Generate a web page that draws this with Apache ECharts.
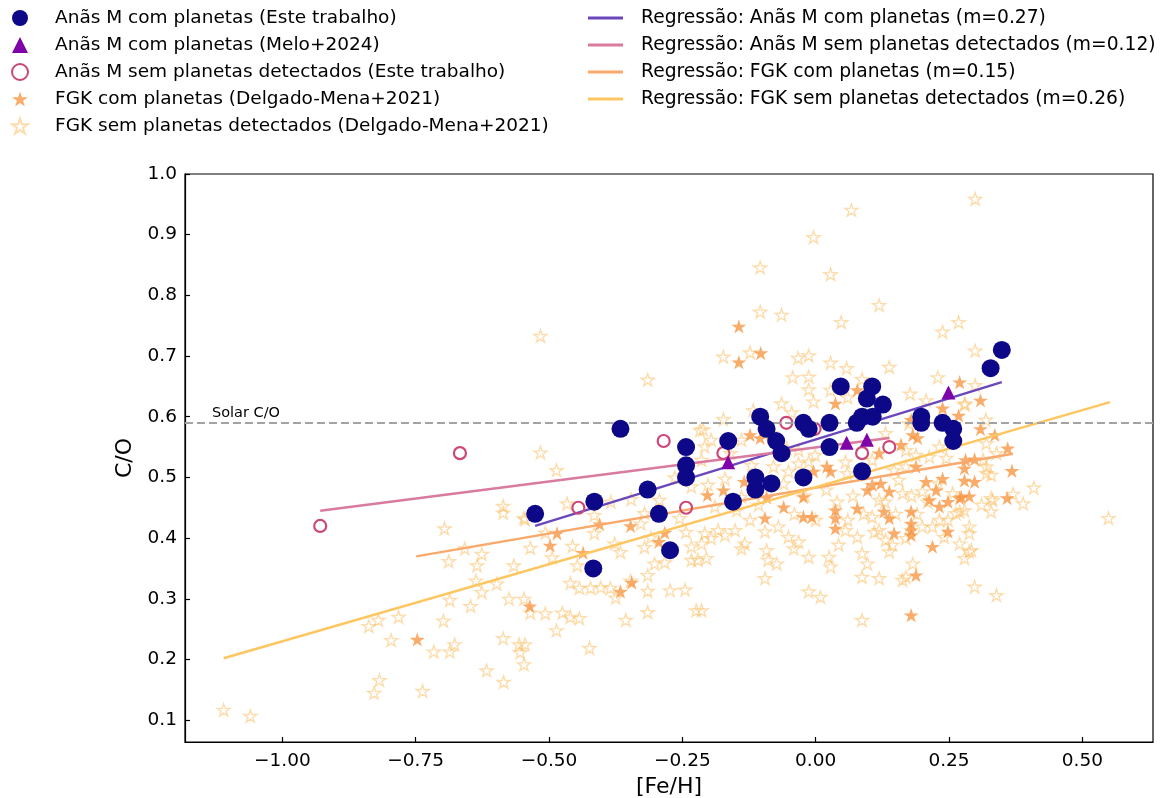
<!DOCTYPE html>
<html><head><meta charset="utf-8">
<script src="https://cdn.jsdelivr.net/npm/echarts@6/dist/echarts.min.js"></script>
<style>html,body{margin:0;padding:0;background:#fff}#c{width:1165px;height:798px}</style>
</head><body><div id="c"></div><script>
// ---- data ----
const xTicks = [-1.0, -0.75, -0.5, -0.25, 0.0, 0.25, 0.5];
const yTicks = [0.1, 0.2, 0.3, 0.4, 0.5, 0.6, 0.7, 0.8, 0.9, 1.0];
const solarCO = 0.59;

const mPlanets = [[-0.526,0.44],[-0.417,0.35],[-0.415,0.46],[-0.366,0.58],[-0.315,0.48],[-0.294,0.44],[-0.273,0.38],[-0.243,0.55],[-0.243,0.52],[-0.243,0.50],[-0.164,0.56],[-0.155,0.46],[-0.113,0.48],[-0.113,0.50],[-0.104,0.60],[-0.092,0.58],[-0.083,0.49],[-0.074,0.56],[-0.064,0.54],[-0.023,0.50],[-0.023,0.59],[-0.013,0.58],[0.026,0.55],[0.026,0.59],[0.047,0.65],[0.077,0.59],[0.087,0.60],[0.087,0.51],[0.096,0.63],[0.106,0.65],[0.107,0.60],[0.126,0.62],[0.198,0.60],[0.198,0.59],[0.238,0.59],[0.258,0.58],[0.258,0.56],[0.328,0.68],[0.349,0.71]];

const mMelo = [[-0.164,0.525],[0.058,0.557],[0.096,0.562],[0.249,0.64]];

const mNoPlanets = [[-0.929,0.42],[-0.667,0.54],[-0.445,0.45],[-0.285,0.56],[-0.243,0.45],[-0.173,0.54],[-0.055,0.59],[-0.002,0.58],[0.087,0.54],[0.138,0.55]];

const fgkPlanets = [[-0.747,0.233],[-0.536,0.288],[-0.498,0.388],[-0.485,0.408],[-0.436,0.376],[-0.405,0.423],[-0.366,0.312],[-0.345,0.327],[-0.347,0.420],[-0.294,0.394],[-0.283,0.409],
[-0.144,0.749],[-0.144,0.690],[-0.103,0.705],[0.078,0.644],[0.037,0.622],[0.270,0.657],[0.309,0.627],[0.238,0.614],[0.268,0.602],[0.309,0.580],[-0.123,0.570],[0.179,0.595],[0.336,0.570],
[0.360,0.548],[0.281,0.529],[0.298,0.530],[0.279,0.515],[0.368,0.511],[0.279,0.495],[0.298,0.493],[0.359,0.466],[0.288,0.469],[0.273,0.468],
[-0.104,0.565],[-0.203,0.471],[-0.173,0.479],[-0.134,0.493],[-0.095,0.433],[-0.092,0.467],[-0.060,0.451],[-0.023,0.468],[-0.023,0.435],[-0.007,0.435],[-0.004,0.510],[0.021,0.518],[0.028,0.510],[0.037,0.446],[0.037,0.433],[0.037,0.416],[0.078,0.449],[0.097,0.479],[0.106,0.488],[0.122,0.490],[0.128,0.444],[0.138,0.433],[0.138,0.477],[0.147,0.408],[0.179,0.444],[0.179,0.424],[0.179,0.413],[0.179,0.405],[0.188,0.518],[0.188,0.339],[0.179,0.273],[0.207,0.493],[0.219,0.386],[0.213,0.463],[0.226,0.479],[0.238,0.498],[0.232,0.452],[0.248,0.460],[0.248,0.411],[0.270,0.466],[0.182,0.570],[0.191,0.565],[0.119,0.540],[0.160,0.554]];

const fgkNoPlanets = [[-1.11,0.117],[-1.06,0.107],[-0.838,0.255],[-0.82,0.265],[-0.828,0.145],[-0.818,0.166],[-0.796,0.232],[-0.737,0.148],[-0.716,0.213],[-0.698,0.264],[-0.686,0.213],[-0.677,0.225],[-0.696,0.416],[-0.688,0.362],[-0.658,0.383],[-0.626,0.374],[-0.635,0.355],[-0.637,0.330],[-0.598,0.325],[-0.626,0.311],[-0.686,0.298],[-0.647,0.288],[-0.586,0.453],[-0.586,0.442],[-0.545,0.431],[-0.566,0.355],[-0.535,0.384],[-0.507,0.409],[-0.494,0.368],[-0.456,0.387],[-0.447,0.355],[-0.575,0.300],[-0.547,0.300],[-0.535,0.277],[-0.507,0.276],[-0.475,0.277],[-0.460,0.270],[-0.443,0.268],[-0.460,0.326],[-0.443,0.318],[-0.422,0.318],[-0.403,0.319],[-0.385,0.318],[-0.375,0.302],[-0.347,0.330],[-0.315,0.313],[-0.273,0.314],[-0.245,0.315],[-0.224,0.281],[-0.315,0.278],[-0.356,0.265],[-0.782,0.270],[-0.586,0.235],[-0.556,0.225],[-0.554,0.212],[-0.545,0.225],[-0.547,0.192],[-0.486,0.248],[-0.424,0.219],[-0.617,0.182],[-0.585,0.163],
[-0.516,0.733],[-0.315,0.661],[-0.516,0.541],[-0.486,0.512],[-0.466,0.457],[-0.384,0.460],[-0.346,0.464],[-0.293,0.463],[-0.264,0.500],[-0.233,0.485],[-0.217,0.578],[-0.415,0.438],[-0.321,0.441],[-0.415,0.408],[-0.377,0.391],[-0.366,0.377],[-0.328,0.424],[-0.309,0.401],[-0.321,0.385],[-0.302,0.358],[-0.283,0.360],[-0.315,0.339],[-0.243,0.410],[-0.233,0.364],[-0.233,0.386],[-0.255,0.433],[-0.547,0.433],
[0.299,0.959],[0.067,0.941],[-0.004,0.896],[-0.104,0.846],[0.028,0.835],[0.119,0.784],[-0.104,0.773],[-0.064,0.768],[0.048,0.756],[0.238,0.740],[0.268,0.756],[0.299,0.709],[-0.173,0.699],[-0.123,0.706],[-0.033,0.697],[-0.013,0.701],[0.028,0.689],[0.058,0.680],[0.138,0.682],[-0.043,0.665],[-0.013,0.666],[-0.013,0.645],[-0.064,0.622],[-0.004,0.625],[0.028,0.644],[0.060,0.632],[0.087,0.662],[0.229,0.665],[0.177,0.638],[0.207,0.627],[0.280,0.622],[0.299,0.652],[0.319,0.595],[-0.045,0.607],[-0.117,0.611],[-0.173,0.596],[-0.211,0.579],
[0.279,0.620],[0.339,0.540],[0.320,0.518],[0.329,0.504],[0.409,0.483],[0.370,0.473],[0.389,0.457],[0.329,0.466],[0.311,0.455],[0.329,0.444],[0.549,0.433],[0.288,0.419],[0.288,0.408],[0.288,0.378],[0.279,0.367],[0.298,0.320],[0.339,0.306],[0.270,0.444],
[-0.196,0.562],[-0.208,0.551],[-0.139,0.562],[-0.085,0.573],[-0.054,0.548],[-0.032,0.545],[-0.032,0.523],[-0.051,0.510],[-0.079,0.518],[-0.001,0.537],[-0.013,0.526],[0.056,0.526],[0.059,0.507],[0.106,0.529],[0.147,0.512],[0.169,0.518],[0.188,0.537],[0.213,0.534],[0.232,0.551],[0.245,0.532],[0.320,0.507],[0.320,0.556],[0.332,0.463],[0.279,0.446],[0.263,0.441],[0.248,0.430],[0.257,0.474],[0.219,0.419],[0.200,0.419],[0.232,0.430],[0.200,0.477],[0.156,0.496],[0.163,0.474],[0.119,0.463],[0.106,0.435],[0.119,0.413],[0.131,0.397],[0.144,0.389],[0.138,0.378],[0.169,0.400],[0.163,0.331],[0.241,0.402],[0.270,0.391],[0.292,0.380],[-0.214,0.529],[-0.170,0.498],[-0.202,0.488],[-0.189,0.452],[-0.148,0.446],[-0.139,0.468],[-0.107,0.455],[-0.123,0.430],[-0.151,0.413],[-0.183,0.413],[-0.208,0.408],[-0.214,0.391],[-0.196,0.400],[-0.170,0.405],[-0.139,0.383],[-0.133,0.391],[-0.095,0.411],[-0.070,0.419],[-0.051,0.402],[-0.041,0.383],[-0.032,0.394],[-0.013,0.369],[0.025,0.369],[0.028,0.353],[0.043,0.389],[0.056,0.413],[0.078,0.402],[0.087,0.375],[0.097,0.358],[0.087,0.336],[0.119,0.334],[0.087,0.265],[-0.013,0.312],[0.009,0.303],[-0.089,0.364],[-0.073,0.358],[-0.095,0.334],[-0.092,0.380],[-0.214,0.281],[-0.221,0.364],[-0.205,0.367],[0.182,0.358],[0.169,0.336],[0.175,0.589],[0.314,0.529],[0.131,0.573],[0.169,0.545],
[-0.12,0.52],[-0.16,0.54],[-0.06,0.49],[0.02,0.48],[0.04,0.46],[0.07,0.47],[0.09,0.44],[0.13,0.46],[0.15,0.44],[0.21,0.46],[0.23,0.49],[-0.11,0.50],[-0.02,0.47],[0.0,0.43],[-0.04,0.44],[0.06,0.43],[0.11,0.41],[0.19,0.44],[0.18,0.47]];

// regression lines: endpoints
const regMPlanets = [[-0.526,0.420],[0.349,0.657]];
const regMNoPlanets = [[-0.929,0.445],[0.138,0.565]];
const regFgkPlanets = [[-0.749,0.370],[0.370,0.539]];
const regFgkNoPlanets = [[-1.110,0.202],[0.552,0.624]];

const names = {
  mP: 'Anãs M com planetas (Este trabalho)',
  melo: 'Anãs M com planetas (Melo+2024)',
  mN: 'Anãs M sem planetas detectados (Este trabalho)',
  fP: 'FGK com planetas (Delgado-Mena+2021)',
  fN: 'FGK sem planetas detectados (Delgado-Mena+2021)',
  rMP: 'Regressão: Anãs M com planetas (m=0.27)',
  rMN: 'Regressão: Anãs M sem planetas detectados (m=0.12)',
  rFP: 'Regressão: FGK com planetas (m=0.15)',
  rFN: 'Regressão: FGK sem planetas detectados (m=0.26)'
};

// ---- chart ----
const STAR = 'path://M100,0 L122.45,69.1 L195.1,69.1 L136.33,111.8 L158.8,180.9 L100,138.2 L41.2,180.9 L63.67,111.8 L4.9,69.1 L77.55,69.1 Z';
const FONT = 'DejaVu Sans';
const chart = echarts.init(document.getElementById('c'), null, {renderer: 'canvas'});

function regLine(name, data, color) {
  return {name, type: 'line', data, symbol: 'none', showSymbol: false, z: 3,
    lineStyle: {color, width: 2.4}, itemStyle: {color}, silent: true};
}

const fmtMinus = v => (v < 0 ? '\u2212' : '') + Math.abs(v).toFixed(2);

chart.setOption({
  animation: false,
  backgroundColor: '#fff',
  textStyle: {fontFamily: FONT},
  grid: {left: 185, right: 12, top: 174, bottom: 56, show: true, borderColor: '#000', borderWidth: 1.2,
         backgroundColor: 'transparent', containLabel: false, outerBoundsMode: 'none'},
  legend: [
    {orient: 'vertical', left: 11, top: 8, itemWidth: 16, itemHeight: 16, itemGap: 7, padding: 0,
     symbolKeepAspect: true,
     textStyle: {fontSize: 18.5, lineHeight: 20, color: '#000', fontFamily: FONT, padding: [0, 0, 0, 22]},
     data: [names.mP, names.melo, names.mN, names.fP, names.fN], selectedMode: false},
    {orient: 'vertical', left: 588, top: 8, itemWidth: 35, itemHeight: 2.8, itemGap: 7, padding: 0,
     icon: 'rect',
     textStyle: {fontSize: 18.7, lineHeight: 20, color: '#000', fontFamily: FONT, padding: [0, 0, 0, 13]},
     data: [names.rMP, names.rMN, names.rFP, names.rFN], selectedMode: false}
  ],
  xAxis: {
    type: 'value', min: -1.1825, max: 0.6325,
    axisLine: {show: true, onZero: false, lineStyle: {color: '#000', width: 1.2}},
    axisTick: {show: true, inside: true, length: 5, customValues: xTicks, lineStyle: {color: '#000', width: 1.2}},
    axisLabel: {customValues: xTicks, formatter: fmtMinus, fontSize: 18.5, color: '#000', margin: 10, fontFamily: FONT},
    splitLine: {show: false},
    name: '[Fe/H]', nameLocation: 'middle', nameGap: 34,
    nameTextStyle: {fontSize: 22, color: '#000', fontFamily: FONT}
  },
  yAxis: {
    type: 'value', min: 0.064, max: 1.0,
    axisLine: {show: true, onZero: false, lineStyle: {color: '#000', width: 1.2}},
    axisTick: {show: true, inside: true, length: 5, customValues: yTicks, lineStyle: {color: '#000', width: 1.2}},
    axisLabel: {customValues: yTicks, formatter: v => v.toFixed(1), fontSize: 18.5, color: '#000', margin: 8, fontFamily: FONT},
    splitLine: {show: false},
    name: 'C/O', nameLocation: 'middle', nameGap: 40, nameRotate: 90,
    nameTextStyle: {fontSize: 22, color: '#000', fontFamily: FONT}
  },
  series: [
    {name: names.fN, type: 'scatter', data: fgkNoPlanets, symbol: STAR, symbolSize: 13, symbolKeepAspect: true, z: 1,
     itemStyle: {color: 'rgba(255,255,255,0)', borderColor: 'rgba(252,188,92,0.5)', borderWidth: 1.4, opacity: 1},
     markLine: {silent: true, symbol: 'none', data: [{yAxis: solarCO}],
       lineStyle: {color: '#a3a3a3', type: [8, 4], width: 2},
       label: {show: true, position: 'insideStartTop', formatter: 'Solar C/O', color: '#000', fontSize: 14.5, fontFamily: FONT, padding: [0, 0, 0, 25], distance: 2}}},
    {name: names.fP, type: 'scatter', data: fgkPlanets, symbol: STAR, symbolSize: 15, symbolKeepAspect: true, z: 2,
     itemStyle: {color: 'rgba(248,149,64,0.78)', opacity: 1}},
    regLine(names.rMP, regMPlanets, '#6a48bc'),
    regLine(names.rMN, regMNoPlanets, '#d97a9e'),
    regLine(names.rFP, regFgkPlanets, '#f9a96c'),
    regLine(names.rFN, regFgkNoPlanets, '#fdc660'),
    {name: names.mN, type: 'scatter', data: mNoPlanets, symbol: 'circle', symbolSize: 12, z: 4,
     itemStyle: {color: 'rgba(255,255,255,0)', borderColor: '#cc4778', borderWidth: 2.2, opacity: 1}},
    {name: names.melo, type: 'scatter', data: mMelo, symbol: 'triangle', symbolSize: 14, symbolKeepAspect: true, z: 5,
     itemStyle: {color: '#7e03a8', opacity: 1}},
    {name: names.mP, type: 'scatter', data: mPlanets, symbol: 'circle', symbolSize: 18, z: 6,
     itemStyle: {color: '#0d0887', opacity: 1}}
  ]
});
</script></body></html>
